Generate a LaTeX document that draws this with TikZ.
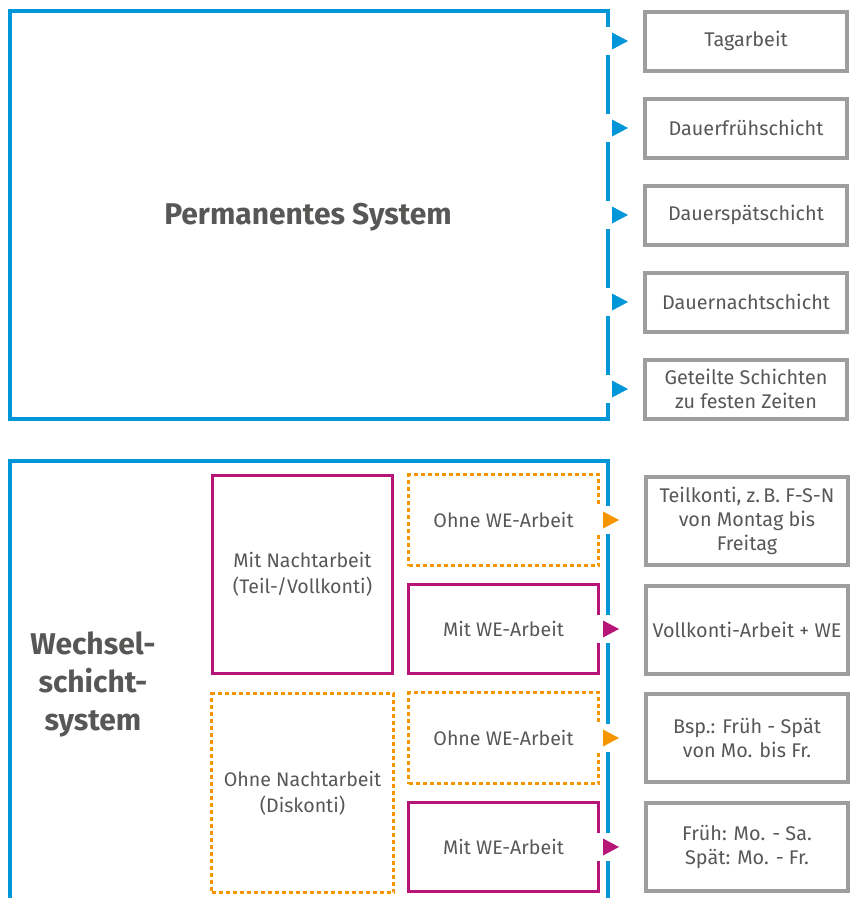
\documentclass[tikz,border=0pt]{standalone}
\usepackage{fontspec}
\setmainfont{Fira Sans}
\usepackage{xcolor}
\usepackage{tikz}
\definecolor{wblue}{RGB}{0,150,215}
\definecolor{wmagenta}{RGB}{183,20,120}
\definecolor{worange}{RGB}{245,150,0}
\definecolor{wgrey}{RGB}{158,158,158}
\definecolor{wtext}{RGB}{87,87,86}
\tikzstyle{frame} = [rectangle, draw=wblue, line width=4pt, align=center, text=wtext, font=\fontsize{30}{38}\selectfont\bfseries]
\tikzstyle{target} = [rectangle, draw=wgrey, line width=4pt, minimum width=202pt, minimum height=59pt, align=center, text=wtext, font=\fontsize{19.8}{24}\selectfont]
\tikzstyle{night} = [rectangle, draw=wmagenta, line width=3.5pt, align=center, text=wtext, font=\fontsize{19.6}{26}\selectfont]
\tikzstyle{nonight} = [night, draw=worange, dash pattern=on 4pt off 3pt]

\begin{document}
\begin{tikzpicture}[x=1pt, y=-1pt, node distance=87pt]
   \useasboundingbox (0,0) rectangle (855,898);
   \clip (0,0) rectangle (855,898);
   % permanent system
   \node (pframe) [frame, minimum width=598pt, minimum height=408pt] at (309,215) {};
   \node (ptitle) [text=wtext, font=\fontsize{30}{38}\selectfont\bfseries] at (308,217) {Permanentes System};
   \node (t1) [target] at (746,41) {Tagarbeit};
   \node (t2) [target, below of=t1] {Dauerfrühschicht};
   \node (t3) [target, below of=t2] {Dauerspätschicht};
   \node (t4) [target, below of=t3] {Dauernachtschicht};
   \node (t5) [target, below of=t4] {Geteilte Schichten\\zu festen Zeiten};
   % shift system
   \node (wframe) [frame, minimum width=598pt, minimum height=480pt] at (309,701) {};
   \node (wtitle) [text=wtext, align=center, font=\fontsize{30}{38}\selectfont\bfseries] at (93,684) {Wechsel-\\schicht-\\system};
   \node (mn) [night, minimum width=180pt, minimum height=198pt] at (302.5,574.5) {Mit Nachtarbeit\\(Teil-/Vollkonti)};
   \node (on) [nonight, minimum width=182pt, minimum height=199pt] at (302.5,793) {Ohne Nachtarbeit\\(Diskonti)};
   \begin{scope}[node distance=109pt]
   \node (w1) [nonight, minimum width=190pt, minimum height=91pt] at (503.5,520) {Ohne WE-Arbeit};
   \node (w2) [night, minimum width=190pt, minimum height=89pt, below of=w1] {Mit WE-Arbeit};
   \node (w3) [nonight, minimum width=190pt, minimum height=91pt, below of=w2] {Ohne WE-Arbeit};
   \node (w4) [night, minimum width=190pt, minimum height=89pt, below of=w3] {Mit WE-Arbeit};
   \end{scope}
   \begin{scope}[node distance=108.5pt]
   \node (l1) [target, minimum height=88pt] at (747,521) {Teilkonti, z.\,B. F-S-N\\von Montag bis\\Freitag};
   \node (l2) [target, minimum height=88pt, below of=l1] {Vollkonti-Arbeit + WE};
   \node (l3) [target, minimum height=88pt, below of=l2] {Bsp.: Früh - Spät\\von Mo. bis Fr.};
   \node (l4) [target, minimum height=88pt, below of=l3] {Früh: Mo. - Sa.\\Spät: Mo. - Fr.};
   \end{scope}
   % arrow tips
   \coordinate (pgap) at (604,0);
   \coordinate (ptip) at (612,0);
   \coordinate (wgap) at (596,0);
   \coordinate (wtip) at (603,0);
   \foreach \t in {t1,t2,t3,t4,t5} {
      \fill[white] (pgap |- \t) ++(0,-14) rectangle ++(8,28);
      \fill[wblue] (ptip |- \t) ++(0,-8.5) -- ++(16,8.5) -- ++(-16,8.5) -- cycle;
   }
   \foreach \t/\c in {w1/worange, w2/wmagenta, w3/worange, w4/wmagenta} {
      \fill[white] (wgap |- \t) ++(0,-14) rectangle ++(15,28);
      \fill[\c] (wtip |- \t) ++(0,-8.5) -- ++(16,8.5) -- ++(-16,8.5) -- cycle;
   }
\end{tikzpicture}
\end{document}
